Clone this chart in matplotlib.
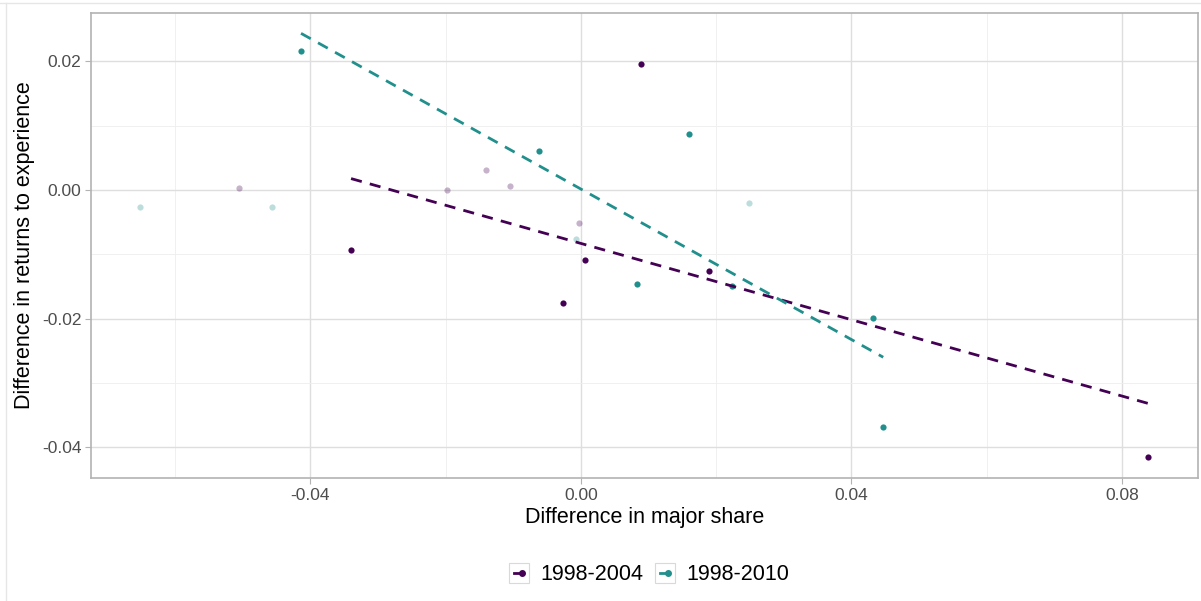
import numpy as np
import matplotlib.pyplot as plt
from matplotlib.lines import Line2D
from matplotlib.patches import Rectangle
from matplotlib.legend_handler import HandlerBase

# ----------------------------------------------------------------------
# data
# ----------------------------------------------------------------------
periods = ["1998-2004", "1998-2010"]
colors = {"1998-2004": "#440154", "1998-2010": "#21908C"}

# points used in the fit (full opacity)
x_2004 = [-0.0340, 0.00887, -0.00266, 0.00059, 0.01893, 0.08385]
y_2004 = [-0.00932, 0.01958, -0.01756, -0.01088, -0.01259, -0.04149]
x_2010 = [-0.0414, -0.0062, 0.0160, 0.0083, 0.0224, 0.0432, 0.0447]
y_2010 = [0.0216, 0.0061, 0.0087, -0.0146, -0.0150, -0.0199, -0.0368]

# faded points (not in the fit)
xf_2004 = [-0.0506, -0.0198, -0.01405, -0.0105, -0.0003]
yf_2004 = [0.0003, 0.0000, 0.0031, 0.0006, -0.0051]
xf_2010 = [-0.0652, -0.0457, 0.0249, -0.0008]
yf_2010 = [-0.0027, -0.0027, -0.0020, -0.0076]

xticks = [-0.04, 0.00, 0.04, 0.08]
yticks = [-0.04, -0.02, 0.00, 0.02]


# ggplot-style legend key: grey box with a short line and a dot
class KeyHandler(HandlerBase):
    def create_artists(self, legend, orig, xdescent, ydescent, width, height,
                       fontsize, trans):
        c = orig.get_color()
        box = Rectangle((-xdescent, -ydescent - 2), width, height + 2,
                        facecolor="white", edgecolor="#D9D9D9", lw=0.8,
                        transform=trans)
        cy = -ydescent + height / 2 - 1
        ln = Line2D([-xdescent + 0.25 * width, -xdescent + 0.7 * width], [cy, cy],
                    color=c, lw=2, transform=trans)
        dot = Line2D([-xdescent + 0.62 * width], [cy], color=c, marker="o",
                     markersize=4, lw=0, transform=trans)
        return [box, ln, dot]


plt.rcParams["font.family"] = ["Liberation Sans", "DejaVu Sans"]

fig = plt.figure(figsize=(12.01, 6.01), dpi=100)
ax = fig.add_axes([91 / 1201, 1 - 478 / 601, (1198 - 91) / 1201, (478 - 13) / 601])

series = [
    ("1998-2004", x_2004, y_2004, xf_2004, yf_2004),
    ("1998-2010", x_2010, y_2010, xf_2010, yf_2010),
]

for name, xs, ys, xf, yf in series:
    c = colors[name]
    ax.scatter(xf, yf, s=20, color=c, alpha=0.3, linewidths=0, zorder=3)
    ax.scatter(xs, ys, s=20, color=c, linewidths=0, zorder=4)
    xs_a, ys_a = np.array(xs), np.array(ys)
    slope, icpt = np.polyfit(xs_a, ys_a, 1)
    xx = np.array([xs_a.min(), xs_a.max()])
    ax.plot(xx, icpt + slope * xx, color=c, lw=2.0, ls=(0, (4, 3)), zorder=5)

ax.set_xlim(-0.07246, 0.09125)
ax.set_ylim(-0.04476, 0.0275)
ax.set_xticks(xticks)
ax.set_yticks(yticks)
ax.set_xticklabels([f"{v:.2f}" for v in xticks])
ax.set_yticklabels([f"{v:.2f}" for v in yticks])
ax.set_xticks([-0.06, -0.02, 0.02, 0.06], minor=True)
ax.set_yticks([-0.03, -0.01, 0.01], minor=True)

ax.grid(True, which="major", color="#DEDEDE", lw=1.0, zorder=0)
ax.grid(True, which="minor", color="#EEEEEE", lw=0.6, zorder=0)
ax.set_axisbelow(True)
for sp in ax.spines.values():
    sp.set_color("#B3B3B3")
    sp.set_linewidth(1.2)
ax.tick_params(which="major", length=4, width=0.8, color="#B3B3B3",
               labelsize=12.5, labelcolor="#4D4D4D", pad=3)
ax.tick_params(which="minor", length=0)

ax.set_xlabel("Difference in major share", fontsize=15.5, labelpad=3)
ax.set_ylabel("Difference in returns to experience", fontsize=15.5, labelpad=5)

handles = [Line2D([0], [0], color=colors[p]) for p in periods]
leg = fig.legend(handles, periods, loc="center",
                 bbox_to_anchor=(649 / 1201, 1 - 574 / 601),
                 ncol=2, frameon=False, fontsize=15.5, handlelength=0.95,
                 handleheight=0.85, columnspacing=0.55, handletextpad=0.5,
                 handler_map={Line2D: KeyHandler()})

# faint border lines at the top and left of the image
fig.add_artist(Line2D([0, 1], [1 - 3 / 601, 1 - 3 / 601], color="#E6E6E6", lw=1,
                      transform=fig.transFigure))
fig.add_artist(Line2D([6 / 1201, 6 / 1201], [0, 1 - 3 / 601], color="#E6E6E6", lw=1,
                      transform=fig.transFigure))

fig.savefig("out.png", dpi=100)
